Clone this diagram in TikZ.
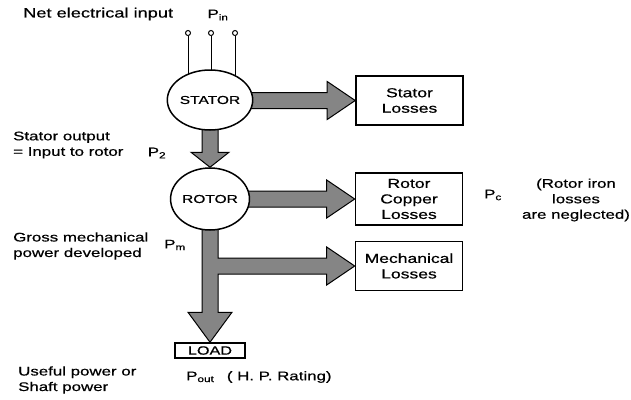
\documentclass[tikz,border=0pt]{standalone}
\usepackage{fontspec}
\setmainfont{Liberation Sans}[FakeStretch=1.35,FakeBold=0.6]
\usepackage{tikz}
\usetikzlibrary{shapes.geometric,positioning,calc,backgrounds}

% power symbol with subscript
\newcommand{\pwr}[1]{P\textsubscript{#1}}
% fat horizontal flow arrow from node #1 to node #2
\newcommand{\sideflow}[2]{%
  \draw[flow] let \p1=(#1), \p2=(#2) in
    (\x1,\y2+8pt) -- (\x2-28pt,\y2+8pt) -- (\x2-28pt,\y2+19pt) -- (\p2)
    -- (\x2-28pt,\y2-19pt) -- (\x2-28pt,\y2-8pt) -- (\x1,\y2-8pt) -- cycle;}

\begin{document}
\begin{tikzpicture}[x=1pt,y=-1pt,
    every node/.style={font=\fontsize{12.5}{15.5}\selectfont},
    part/.style={ellipse, draw, line width=1.5pt, fill=white, minimum width=74pt,
      minimum height=60pt, inner sep=0pt, font=\fontsize{11.5}{14}\selectfont},
    lossbox/.style={draw, line width=1.6pt, fill=white, align=center, minimum width=107pt,
      minimum height=49pt, font=\fontsize{13}{15.5}\selectfont},
    terminal/.style={circle, draw, line width=1pt, fill=white, inner sep=0pt, minimum size=5pt},
    flow/.style={draw=black, line width=1pt, fill=black!48, line join=miter},
    lbl/.style={anchor=west, align=left, inner sep=0pt}]
    \useasboundingbox (0,0) rectangle (631,399);

    % ============================================================
    % Machine parts and losses
    % ============================================================
    \node[part] (stator) at (210,100) {STATOR};
    \node[part, minimum width=75pt, minimum height=62pt] (rotor) at (210,199) {ROTOR};
    \node[draw, line width=1.5pt, fill=white, minimum width=70pt, minimum height=15pt,
      inner sep=0pt, font=\fontsize{12}{14}\selectfont] (load) at (210,350.5) {LOAD};

    \node[lossbox] (statorloss) at (409.5,100.5) {Stator\\Losses};
    \node[lossbox, minimum height=52pt] (copperloss) at (409,199) {Rotor\\Copper\\Losses};
    \node[lossbox] (mechloss) at (409,266) {Mechanical\\Losses};

    % supply terminals
    \node[terminal] (ta) at (188,33) {};
    \node[terminal] (tb) at (211,33) {};
    \node[terminal] (tc) at (235,33) {};

    % ============================================================
    % Power flow
    % ============================================================
    \begin{scope}[on background layer]
        \foreach \t in {ta,tb,tc}
            \draw[line width=1pt] (\t) -- (\t |- stator.center);

        \sideflow{stator.center}{statorloss.west}
        \sideflow{rotor.center}{copperloss.west}

        % stator to rotor
        \draw[flow] let \p1=(stator.center), \p2=(rotor.north) in
            (\x1-8pt,\y1) -- (\x1-8pt,\y2+15pt) -- (\x1-19pt,\y2+15pt) -- (\p2)
            -- (\x1+19pt,\y2+15pt) -- (\x1+8pt,\y2+15pt) -- (\x1+8pt,\y1) -- cycle;

        % rotor to load, branch to mechanical losses
        \draw[flow] let \p1=(rotor.center), \p2=(load.north), \p3=(mechloss.west) in
            (\x1-8pt,\y1) -- (\x1-8pt,\y2+30pt) -- (\x1-22pt,\y2+30pt) -- (\p2)
            -- (\x1+22pt,\y2+30pt) -- (\x1+8pt,\y2+30pt) -- (\x1+8pt,\y3-8pt)
            -- (\x3-28pt,\y3-8pt) -- (\x3-28pt,\y3-19pt) -- (\p3)
            -- (\x3-28pt,\y3+19pt) -- (\x3-28pt,\y3+8pt) -- (\x1+8pt,\y3+8pt)
            -- (\x1+8pt,\y1) -- cycle;
    \end{scope}

    % ============================================================
    % Labels
    % ============================================================
    \node[lbl, font=\fontsize{13.5}{16}\selectfont] (netin) at (23,14) {Net electrical input};
    \node (pin) at (218,15) {\pwr{in}};

    \node[lbl] (statout) at (13,145) {Stator output\\= Input to rotor};
    \node (ptwo) at (157,153) {\pwr{2}};

    \node[lbl] (gross) at (13,246) {Gross mechanical\\power developed};
    \node (pm) at (175,245) {\pwr{m}};

    \node (pc) at (493,195) {\pwr{c}};
    \node[align=center, inner sep=0pt] (ironnote) at (576,200) {(Rotor iron\\losses\\are neglected)};

    \node[lbl] (useful) at (18,380) {Useful power or\\Shaft power};
    \node[lbl] (pout) at (186,377) {\pwr{out}\quad( H. P. Rating)};
\end{tikzpicture}
\end{document}
